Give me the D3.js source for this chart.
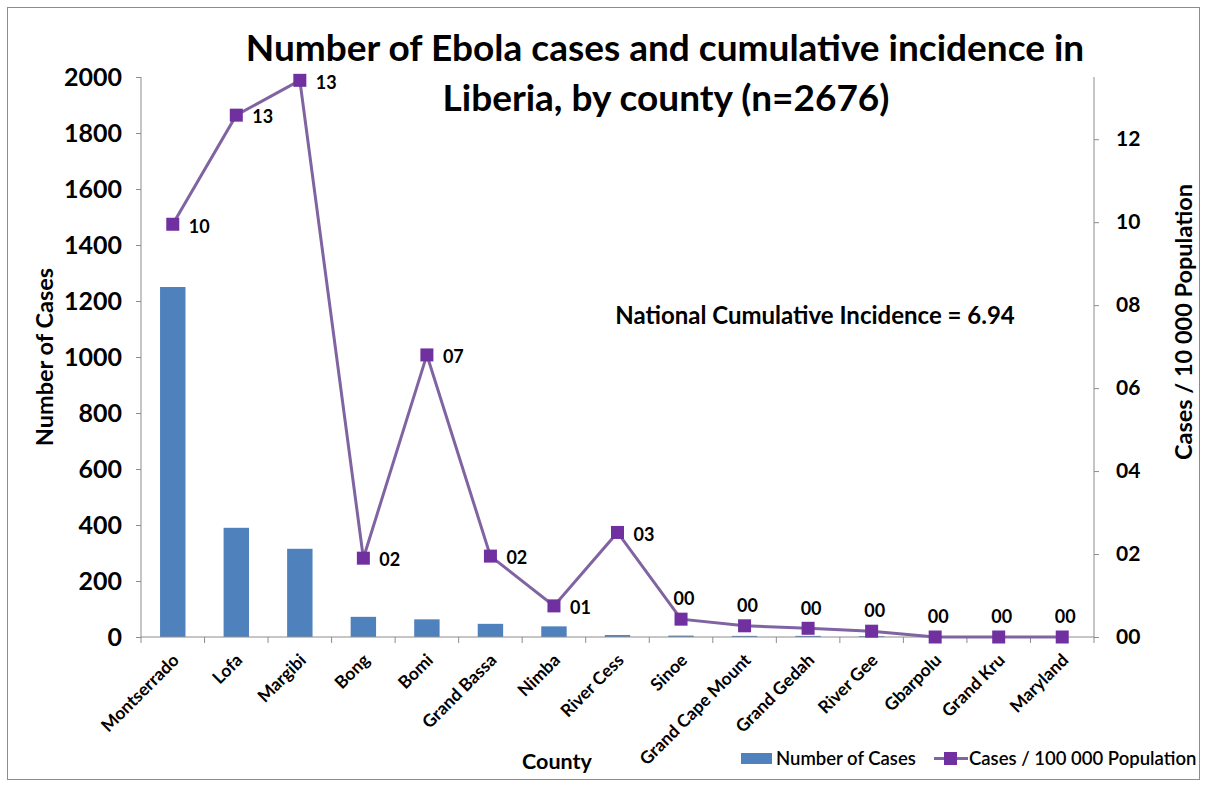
<!DOCTYPE html>
<html>
<head>
<meta charset="utf-8">
<script src="https://cdn.jsdelivr.net/npm/d3@7"></script>
<style>
  html, body { margin: 0; padding: 0; background: #fff; }
  svg { display: block; }
  text { font-family: Lato, "Open Sans", sans-serif; }
</style>
</head>
<body>
<svg id="chart" width="1205" height="785"></svg>
<script>
// Counties, ordered by number of cases
const counties = ["Montserrado", "Lofa", "Margibi", "Bong", "Bomi", "Grand Bassa", "Nimba",
  "River Cess", "Sinoe", "Grand Cape Mount", "Grand Gedah", "River Gee", "Gbarpolu", "Grand Kru", "Maryland"];
// Number of cases per county
const cases = [1250, 390, 315, 72, 63, 47, 38, 7, 5, 4, 4, 3, 0, 0, 0];
// Cumulative incidence per county
const incidence = [9.95, 12.58, 13.42, 1.90, 6.80, 1.95, 0.75, 2.52, 0.43, 0.27, 0.21, 0.14, 0, 0, 0];
// Axis ticks
const leftTicks = [0, 200, 400, 600, 800, 1000, 1200, 1400, 1600, 1800, 2000];
const rightTicks = [0, 2, 4, 6, 8, 10, 12];

(function draw() {
  const svg = d3.select("#chart");
  const pLeft = 141, pRight = 1094, pTop = 77, pBottom = 637;

  // outer frame
  svg.append("rect").attr("x", 7.5).attr("y", 7.5).attr("width", 1192).attr("height", 772)
    .attr("fill", "none").attr("stroke", "#8c8c8c").attr("stroke-width", 1);

  const x = d3.scaleBand().domain(counties).range([pLeft, pRight]).paddingInner(0).paddingOuter(0);
  const yL = d3.scaleLinear().domain([0, 2000]).range([pBottom, pTop]);
  const yR = d3.scaleLinear().domain([0, 13.5]).range([pBottom, pTop]);
  const pad2 = v => String(Math.round(v)).padStart(2, "0");

  // bars
  const barW = x.bandwidth() * 0.4;
  svg.append("g").selectAll("rect").data(counties).join("rect")
    .attr("x", d => x(d) + (x.bandwidth() - barW) / 2)
    .attr("width", barW)
    .attr("y", (d, i) => yL(cases[i]))
    .attr("height", (d, i) => pBottom - yL(cases[i]))
    .attr("fill", "#4F81BD");

  // left axis
  const gL = svg.append("g").attr("transform", `translate(${pLeft},0)`)
    .call(d3.axisLeft(yL).tickValues(leftTicks).tickSize(5).tickPadding(14).tickFormat(d3.format("d")));
  gL.select(".domain").attr("stroke", "#8c8c8c").attr("d", `M0,${pTop}V${pBottom}`);
  gL.selectAll(".tick line").attr("stroke", "#8c8c8c");
  gL.selectAll(".tick text").attr("font-size", 25).attr("font-weight", 700).attr("fill", "#000");

  // right axis
  const gR = svg.append("g").attr("transform", `translate(${pRight},0)`)
    .call(d3.axisRight(yR).tickValues(rightTicks).tickSize(5).tickPadding(17).tickFormat(pad2));
  gR.select(".domain").attr("stroke", "#8c8c8c").attr("d", `M0,${pTop}V${pBottom}`);
  gR.selectAll(".tick line").attr("stroke", "#8c8c8c");
  gR.selectAll(".tick text").attr("font-size", 21).attr("font-weight", 700).attr("fill", "#000");

  // bottom axis
  const gB = svg.append("g").attr("transform", `translate(0,${pBottom})`)
    .call(d3.axisBottom(x).tickSize(0).tickPadding(0));
  gB.select(".domain").attr("stroke", "#8c8c8c").attr("d", `M${pLeft},0H${pRight}`);
  gB.selectAll(".tick line").remove();
  gB.selectAll(".tick text")
    .attr("font-size", 17.5).attr("font-weight", 700).attr("fill", "#000")
    .attr("text-anchor", "end")
    .attr("transform", "translate(3,20) rotate(-45)")
    .attr("dy", "0.35em");
  // category boundary ticks
  svg.append("g").selectAll("line").data(d3.range(counties.length + 1)).join("line")
    .attr("x1", i => pLeft + i * x.step()).attr("x2", i => pLeft + i * x.step())
    .attr("y1", pBottom).attr("y2", pBottom + 6)
    .attr("stroke", "#8c8c8c");

  // incidence line
  const cx = i => x(counties[i]) + x.bandwidth() / 2;
  const line = d3.line().x((d, i) => cx(i)).y(d => yR(d));
  svg.append("path").datum(incidence).attr("d", line)
    .attr("fill", "none").attr("stroke", "#8064A2").attr("stroke-width", 3);
  const ms = 13;
  svg.append("g").selectAll("rect").data(incidence).join("rect")
    .attr("x", (d, i) => cx(i) - ms / 2).attr("y", d => yR(d) - ms / 2)
    .attr("width", ms).attr("height", ms).attr("fill", "#7030A0");

  // value labels: beside the marker for the first points, above for the flat tail
  svg.append("g").selectAll("text").data(incidence).join("text")
    .attr("x", (d, i) => i < 8 ? cx(i) + 16 : cx(i) + 3)
    .attr("y", (d, i) => i < 8 ? yR(d) + 2 : yR(d) - 20)
    .attr("dy", "0.35em")
    .attr("text-anchor", (d, i) => i < 8 ? "start" : "middle")
    .attr("font-size", 18).attr("font-weight", 700).attr("fill", "#000")
    .text(d => pad2(d));

  // title
  svg.append("text").attr("x", 665).attr("y", 61).attr("text-anchor", "middle")
    .attr("font-size", 37).attr("font-weight", 700).text("Number of Ebola cases and cumulative incidence in");
  svg.append("text").attr("x", 666).attr("y", 111).attr("text-anchor", "middle")
    .attr("font-size", 37).attr("font-weight", 700).text("Liberia, by county (n=2676)");

  // axis titles
  svg.append("text").attr("transform", "translate(53,357) rotate(-90)").attr("text-anchor", "middle")
    .attr("font-size", 23.5).attr("font-weight", 700).text("Number of Cases");
  svg.append("text").attr("transform", "translate(1192,322) rotate(-90)").attr("text-anchor", "middle")
    .attr("font-size", 23.5).attr("font-weight", 700).text("Cases / 10 000 Population");
  svg.append("text").attr("x", 557).attr("y", 769).attr("text-anchor", "middle")
    .attr("font-size", 21.5).attr("font-weight", 700).text("County");

  // annotation
  svg.append("text").attr("x", 815).attr("y", 324).attr("text-anchor", "middle")
    .attr("font-size", 24).attr("font-weight", 700).text("National Cumulative Incidence = 6.94");

  // legend
  const lg = svg.append("g");
  lg.append("rect").attr("x", 741).attr("y", 753).attr("width", 31).attr("height", 11).attr("fill", "#4F81BD");
  lg.append("text").attr("x", 776).attr("y", 765).attr("font-size", 18.5).attr("font-weight", 600).text("Number of Cases");
  lg.append("line").attr("x1", 934).attr("x2", 968).attr("y1", 758.5).attr("y2", 758.5)
    .attr("stroke", "#8064A2").attr("stroke-width", 3);
  lg.append("rect").attr("x", 944).attr("y", 752).attr("width", 13).attr("height", 13).attr("fill", "#7030A0");
  lg.append("text").attr("x", 969).attr("y", 765).attr("font-size", 18.5).attr("font-weight", 600).text("Cases / 100 000 Population");
})();
</script>
</body>
</html>
